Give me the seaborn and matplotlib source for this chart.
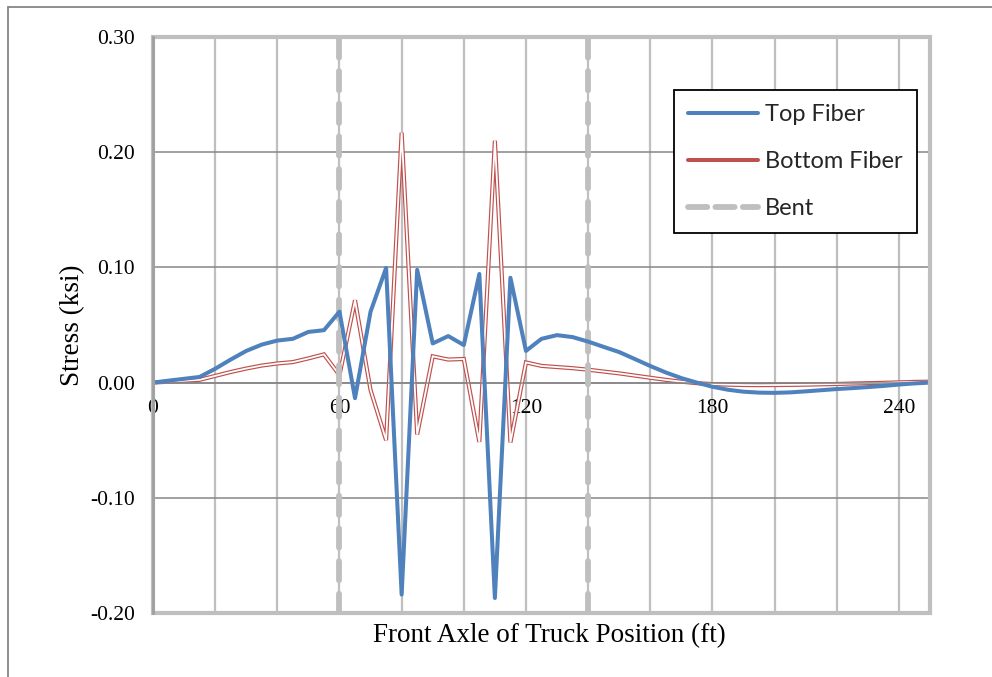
import numpy as np
import pandas as pd
import matplotlib
matplotlib.use("Agg")
import matplotlib.pyplot as plt
import seaborn as sns
from matplotlib.lines import Line2D
from matplotlib.patches import Rectangle

# ---------------- data ----------------
position_ft = [0, 5, 10, 15, 20, 25, 30, 35, 40, 45, 50, 55, 60, 65, 70, 75, 80, 85, 90, 95,
               100, 105, 110, 115, 120, 125, 130, 135, 140, 145, 150, 155, 160, 165, 170, 175,
               180, 185, 190, 195, 200, 205, 210, 215, 220, 225, 230, 235, 240, 245, 250]

top_fiber = [0.000, 0.0017, 0.0033, 0.0049, 0.0120, 0.0200, 0.0275, 0.0330, 0.0365, 0.0380,
             0.0440, 0.0455, 0.0616, -0.0135, 0.0616, 0.0995, -0.1840, 0.0979, 0.0340, 0.0404,
             0.0326, 0.0943, -0.1870, 0.0910, 0.0275, 0.0380, 0.0412, 0.0395, 0.0356, 0.0310,
             0.0265, 0.0205, 0.0144, 0.0088, 0.0039, 0.0000, -0.0036, -0.0062, -0.0079, -0.0087,
             -0.0089, -0.0085, -0.0076, -0.0066, -0.0056, -0.0048, -0.0039, -0.0029, -0.0017,
             -0.0007, 0.0000]

bottom_fiber = [0.000, 0.0008, 0.0016, 0.0024, 0.0058, 0.0092, 0.0122, 0.0148, 0.0166, 0.0178,
                0.0210, 0.0245, 0.0065, 0.0715, -0.0065, -0.0500, 0.2170, -0.0450, 0.0228, 0.0200,
                0.0205, -0.0515, 0.2100, -0.0520, 0.0175, 0.0145, 0.0135, 0.0125, 0.0112, 0.0096,
                0.0080, 0.0061, 0.0042, 0.0024, 0.0008, -0.0005, -0.0013, -0.0018, -0.0021, -0.0022,
                -0.0021, -0.0020, -0.0018, -0.0015, -0.0012, -0.0008, -0.0005, -0.0002, 0.0002,
                0.0006, 0.0008]

bent_positions = [60, 140]

x_ticks = list(range(0, 251, 20))
x_tick_labels = ["0", "", "", "60", "", "", "120", "", "", "180", "", "", "240"]
y_ticks = [-0.20, -0.10, 0.00, 0.10, 0.20, 0.30]

series_labels = ["Top Fiber", "Bottom Fiber", "Bent"]

# ---------------- style ----------------
BLUE = "#4F81BD"
RED = "#C0504D"
GRAY = "#BFBFBF"
DARK = "#868686"

sns.set_theme(style="white")
serif = ["Liberation Serif", "DejaVu Serif"]
plt.rcParams["font.family"] = serif

df = pd.DataFrame({"pos": position_ft, "top": top_fiber, "bottom": bottom_fiber})

fig = plt.figure(figsize=(9.92, 6.77), dpi=100)
W, H = 992, 677
L, R, T, B = 153, 930, 37, 613
ax = fig.add_axes([L / W, 1 - B / H, (R - L) / W, (B - T) / H])

# bottom fiber: double (compound) red line
sns.lineplot(data=df, x="pos", y="bottom", ax=ax, color=RED, linewidth=3.0,
             solid_joinstyle="miter", zorder=2, legend=False)
sns.lineplot(data=df, x="pos", y="bottom", ax=ax, color="white", linewidth=1.3,
             solid_joinstyle="miter", zorder=2.1, legend=False)

# bents
for bx in bent_positions:
    ax.axvline(bx, color=GRAY, linewidth=4.2, linestyle=(0, (3.3, 2.3)),
               dash_capstyle="round", zorder=3)

# top fiber
sns.lineplot(data=df, x="pos", y="top", ax=ax, color=BLUE, linewidth=2.9,
             solid_joinstyle="round", zorder=4, legend=False)

ax.set_xlim(0, 250)
ax.set_ylim(-0.20, 0.30)
ax.set_xticks(x_ticks)
ax.set_xticklabels(x_tick_labels)
ax.set_yticks(y_ticks)
ax.set_yticklabels([f"{v:.2f}" for v in y_ticks])

ax.set_axisbelow(True)
ax.xaxis.grid(True, color=GRAY, linewidth=1.6)
ax.yaxis.grid(True, color=DARK, linewidth=1.1)

for s in ["top", "right"]:
    ax.spines[s].set_visible(False)
ax.spines["bottom"].set_position(("data", 0))
ax.spines["bottom"].set_color(DARK)
ax.spines["bottom"].set_linewidth(1.1)
ax.spines["left"].set_color("#A0A0A0")
ax.spines["left"].set_linewidth(2.0)
ax.spines["left"].set_zorder(6)

ax.add_patch(Rectangle((0, 0), 1, 1, transform=ax.transAxes, fill=False,
                       edgecolor=GRAY, linewidth=3.0, clip_on=False, zorder=5))

ax.tick_params(axis="x", length=0, pad=12, labelsize=15.5, colors="black")
ax.tick_params(axis="y", length=0, pad=13, labelsize=15.5, colors="black")

ax.set_xlabel("Front Axle of Truck Position (ft)", fontsize=19.5, color="black")
ax.set_ylabel("Stress (ksi)", fontsize=19.5, color="black")
ax.xaxis.set_label_coords(0.51, -0.018)
ax.yaxis.set_label_coords(-0.103, 0.5)
ax.xaxis.label.set_va("top")
ax.yaxis.label.set_va("center")

# legend
handles = [
    Line2D([], [], color=BLUE, linewidth=2.9, solid_capstyle="round"),
    Line2D([], [], color=RED, linewidth=2.9, solid_capstyle="round"),
    Line2D([], [], color=GRAY, linewidth=4.2, linestyle=(0, (3.3, 1.4)), dash_capstyle="round"),
]
leg = ax.legend(handles, series_labels, loc="upper left",
                bbox_to_anchor=(674 / W, 1 - 90 / H), bbox_transform=fig.transFigure,
                frameon=True, fancybox=False, borderaxespad=0,
                prop={"family": ["Lato", "DejaVu Sans"], "size": 17},
                handlelength=2.95, handletextpad=0.3, labelspacing=1.1,
                borderpad=0.6)
leg.get_frame().set_edgecolor("black")
leg.get_frame().set_linewidth(1.3)
leg.get_frame().set_alpha(1)
leg.set_zorder(10)

# outer chart border (top and left visible)
fig.add_artist(Line2D([8 / W, 8 / W], [0, 1 - 7 / H], transform=fig.transFigure,
                      color=DARK, linewidth=1.3))
fig.add_artist(Line2D([8 / W, 1], [1 - 7 / H, 1 - 7 / H], transform=fig.transFigure,
                      color=DARK, linewidth=1.3))

fig.savefig("out.png", dpi=100, facecolor="white")
